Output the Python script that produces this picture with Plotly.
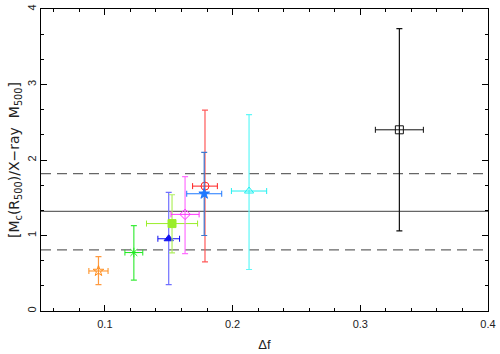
import plotly.graph_objects as go

# data
names = ["A", "B", "C", "D", "E", "F", "G", "H", "I"]
df = [0.095, 0.1227, 0.150, 0.1526, 0.1628, 0.1784, 0.1778, 0.2129, 0.3306]
df_err = [0.0075, 0.007, 0.0085, 0.020, 0.011, 0.0097, 0.0137, 0.0138, 0.0188]
ratio = [0.53, 0.774, 0.957, 1.158, 1.28, 1.654, 1.553, 1.589, 2.40]
ratio_up = [0.72, 1.13, 1.57, 1.54, 1.78, 2.66, 2.10, 2.60, 3.74]
ratio_lo = [0.35, 0.41, 0.35, 0.77, 0.76, 0.65, 1.00, 0.55, 1.06]
colors = ["#ff8c1a", "#1ee81e", "#1010f0", "#9aee2a", "#ff33ff", "#ff2020", "#1e78ff", "#22f0f0", "#111111"]
ycolors = ["#ff9a40", "#3cec3c", "#7070ff", "#b0f060", "#ff70ff", "#ff5a5a", "#3c78d0", "#60f8f8", "#111111"]
symbols = ["star-open", "asterisk-open", "triangle-up", "square", "diamond-open",
           "circle-open", "star", "triangle-up-open", "square-open"]
mean_line = 1.32
band_hi = 1.82
band_lo = 0.81

fig = go.Figure()

for i in range(len(df)):
    fig.add_trace(go.Scatter(
        x=[df[i]], y=[ratio[i]], mode="markers",
        marker=dict(symbol=symbols[i], color=colors[i], size=8,
                    line=dict(color=colors[i], width=1)),
        error_x=dict(type="data", array=[df_err[i]], color=colors[i], thickness=1, width=3),
        error_y=dict(type="data", symmetric=False,
                     array=[ratio_up[i] - ratio[i]], arrayminus=[ratio[i] - ratio_lo[i]],
                     color=ycolors[i], thickness=1.2, width=3),
        showlegend=False, name=names[i]))

for yv, dash in [(mean_line, "solid"), (band_hi, "10px,6px"), (band_lo, "10px,6px")]:
    fig.add_shape(type="line", xref="paper", x0=0, x1=1, yref="y", y0=yv, y1=yv,
                  line=dict(color="#666666", width=1.3, dash=dash), layer="below")

font = dict(family="Liberation Sans, Arial, sans-serif", size=11, color="#222222")

fig.update_layout(
    width=500, height=354,
    margin=dict(l=41, r=10, t=4, b=43),
    paper_bgcolor="white", plot_bgcolor="white",
    font=font,
    xaxis=dict(range=[0.05, 0.4], tickvals=[0.1, 0.2, 0.3, 0.4], ticktext=["0.1", "0.2", "0.3", "0.4"],
               ticks="inside", ticklen=6, tickcolor="black", showline=True, linecolor="black",
               linewidth=1, mirror="ticks", showgrid=False, zeroline=False,
               minor=dict(dtick=0.02, tick0=0, ticks="inside", ticklen=3, tickcolor="black", showgrid=False),
               title=dict(text="Δf", standoff=10), ticklabelstandoff=3),
    yaxis=dict(range=[0, 4], tickvals=[0, 1, 2, 3, 4], tickangle=-90,
               ticks="inside", ticklen=6, tickcolor="black", showline=True, linecolor="black",
               linewidth=1, mirror="ticks", showgrid=False, zeroline=False,
               minor=dict(dtick=1/3, tick0=0, ticks="inside", ticklen=3, tickcolor="black", showgrid=False),
               title=dict(text="[M<sub>c</sub>(R<sub>500</sub>)/X−ray  M<sub>500</sub>]", standoff=2,
                          font=dict(family="DejaVu Sans, sans-serif", size=14, color="#222222"))),
)

fig.write_html("out.html", config={"displayModeBar": False},
               post_script="document.body.style.margin='0';document.body.style.overflow='hidden';")
